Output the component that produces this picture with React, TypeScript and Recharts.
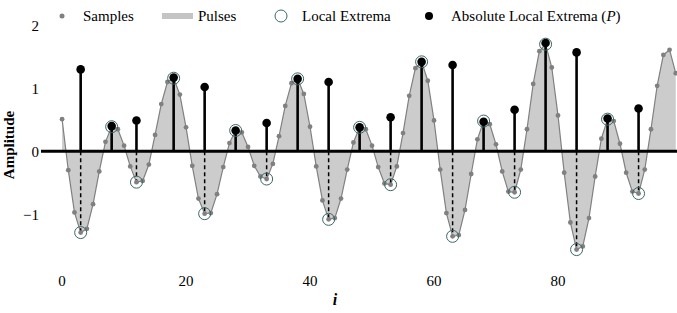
import {
  ComposedChart,
  Area,
  Scatter,
  XAxis,
  YAxis,
  ReferenceLine,
} from "recharts";

// sample values, one per index i = 0..99
const sampleValues = [
  0.51, -0.3, -0.97, -1.29, -1.23, -0.84, -0.32, 0.15, 0.39, 0.35,
  0.09, -0.24, -0.49, -0.47, -0.21, 0.26, 0.75, 1.1, 1.16, 0.9,
  0.38, -0.23, -0.75, -0.99, -0.98, -0.68, -0.25, 0.13, 0.33, 0.3,
  0.07, -0.23, -0.4, -0.44, -0.2, 0.24, 0.72, 1.08, 1.15, 0.91,
  0.39, -0.24, -0.78, -1.08, -1.06, -0.75, -0.29, 0.14, 0.38, 0.35,
  0.09, -0.25, -0.51, -0.53, -0.24, 0.29, 0.88, 1.32, 1.42, 1.12,
  0.49, -0.29, -0.98, -1.35, -1.33, -0.93, -0.36, 0.19, 0.48, 0.43,
  0.11, -0.32, -0.64, -0.65, -0.29, 0.35, 1.07, 1.59, 1.7, 1.33,
  0.57, -0.34, -1.13, -1.56, -1.51, -1.06, -0.4, 0.2, 0.51, 0.48,
  0.12, -0.34, -0.64, -0.67, -0.29, 0.35, 1.04, 1.53, 1.61, 1.24,
];

// indices of local extrema
const extremaIdx = [3, 8, 12, 18, 23, 28, 33, 38, 43, 48, 53, 58, 63, 68, 73, 78, 83, 88, 93];
// absolute local extrema (P)
const pValues = [
  1.3, 0.4, 0.49, 1.17, 1.02, 0.33, 0.45, 1.15, 1.1, 0.38,
  0.54, 1.42, 1.37, 0.47, 0.66, 1.72, 1.57, 0.52, 0.68,
];

const xTicks = [0, 20, 40, 60, 80];
const yTicks = [-1, 0, 1, 2];

const FONT = "'Liberation Serif', 'Times New Roman', serif";

const samples = sampleValues.map((v, i) => ({ i, v }));
const extrema = extremaIdx.map((i) => ({ i, v: sampleValues[i] }));
const pPoints = extremaIdx.map((i, k) => ({ i, v: pValues[k] }));
const minima = extrema.filter((d) => d.v < 0);

const dot = (r: number, fill: string, stroke = "none", sw = 0) => (props: any) => (
  <circle cx={props.cx} cy={props.cy} r={r} fill={fill} stroke={stroke} strokeWidth={sw} />
);

export default function App() {
  return (
    <div style={{ position: "absolute", left: 0, top: 0, width: 677, height: 313, background: "#fff" }}>
      <ComposedChart
        width={677}
        height={313}
        data={samples}
        margin={{ top: 19, right: 0, bottom: 0, left: 0 }}
      >
        <XAxis
          type="number"
          dataKey="i"
          domain={[-3.4, 99.2]}
          ticks={xTicks}
          allowDataOverflow
          axisLine={false}
          tickLine={false}
          tickSize={0}
          tickMargin={4}
          height={42}
          tick={{ fontSize: 15, fill: "#000", fontFamily: FONT }}
        />
        <YAxis
          type="number"
          domain={[-1.9, 2.1]}
          ticks={yTicks}
          allowDataOverflow
          axisLine={false}
          tickLine={false}
          tickSize={0}
          tickMargin={2}
          width={41}
          tickFormatter={(v: number) => (v < 0 ? `\u2212${Math.abs(v)}` : `${v}`)}
          tick={{ fontSize: 15, fill: "#000", fontFamily: FONT }}
        />
        <Area
          dataKey="v"
          type="linear"
          baseValue={0}
          fill="#cccccc"
          fillOpacity={1}
          stroke="#808080"
          strokeWidth={1.2}
          dot={false}
          activeDot={false}
          isAnimationActive={false}
        />
        <ReferenceLine y={0} stroke="#000" strokeWidth={3} />
        {minima.map((d) => (
          <ReferenceLine
            key={`d${d.i}`}
            segment={[{ x: d.i, y: 0 }, { x: d.i, y: d.v }]}
            stroke="#000"
            strokeWidth={1.5}
            strokeDasharray="4 3"
          />
        ))}
        {pPoints.map((d) => (
          <ReferenceLine
            key={`s${d.i}`}
            segment={[{ x: d.i, y: 0 }, { x: d.i, y: d.v }]}
            stroke="#000"
            strokeWidth={2.6}
          />
        ))}
        <Scatter data={samples} dataKey="v" shape={dot(2.4, "#808080")} isAnimationActive={false} />
        <Scatter data={extrema} dataKey="v" shape={dot(6, "none", "#3b6666", 1)} isAnimationActive={false} />
        <Scatter data={pPoints} dataKey="v" shape={dot(4.3, "#000")} isAnimationActive={false} />
      </ComposedChart>

      <svg
        width={677}
        height={313}
        style={{ position: "absolute", left: 0, top: 0, pointerEvents: "none" }}
        fontFamily={FONT}
        fontSize={15}
      >
        <circle cx={62} cy={16} r={2.5} fill="#808080" />
        <text x={83} y={21}>Samples</text>
        <rect x={162} y={13} width={31} height={6} fill="#c4c4c4" />
        <text x={198} y={21}>Pulses</text>
        <circle cx={281} cy={16} r={6} fill="none" stroke="#3b6666" strokeWidth={1} />
        <text x={302} y={21}>Local Extrema</text>
        <circle cx={429} cy={16} r={4} fill="#000" />
        <text x={451} y={21}>
          Absolute Local Extrema (<tspan fontStyle="italic">P</tspan>)
        </text>
        <text
          x={14}
          y={145}
          transform="rotate(-90 14 145)"
          textAnchor="middle"
          fontWeight="bold"
        >
          Amplitude
        </text>
        <text x={335} y={305} textAnchor="middle" fontWeight="bold" fontStyle="italic" fontSize={16}>
          i
        </text>
      </svg>
    </div>
  );
}
